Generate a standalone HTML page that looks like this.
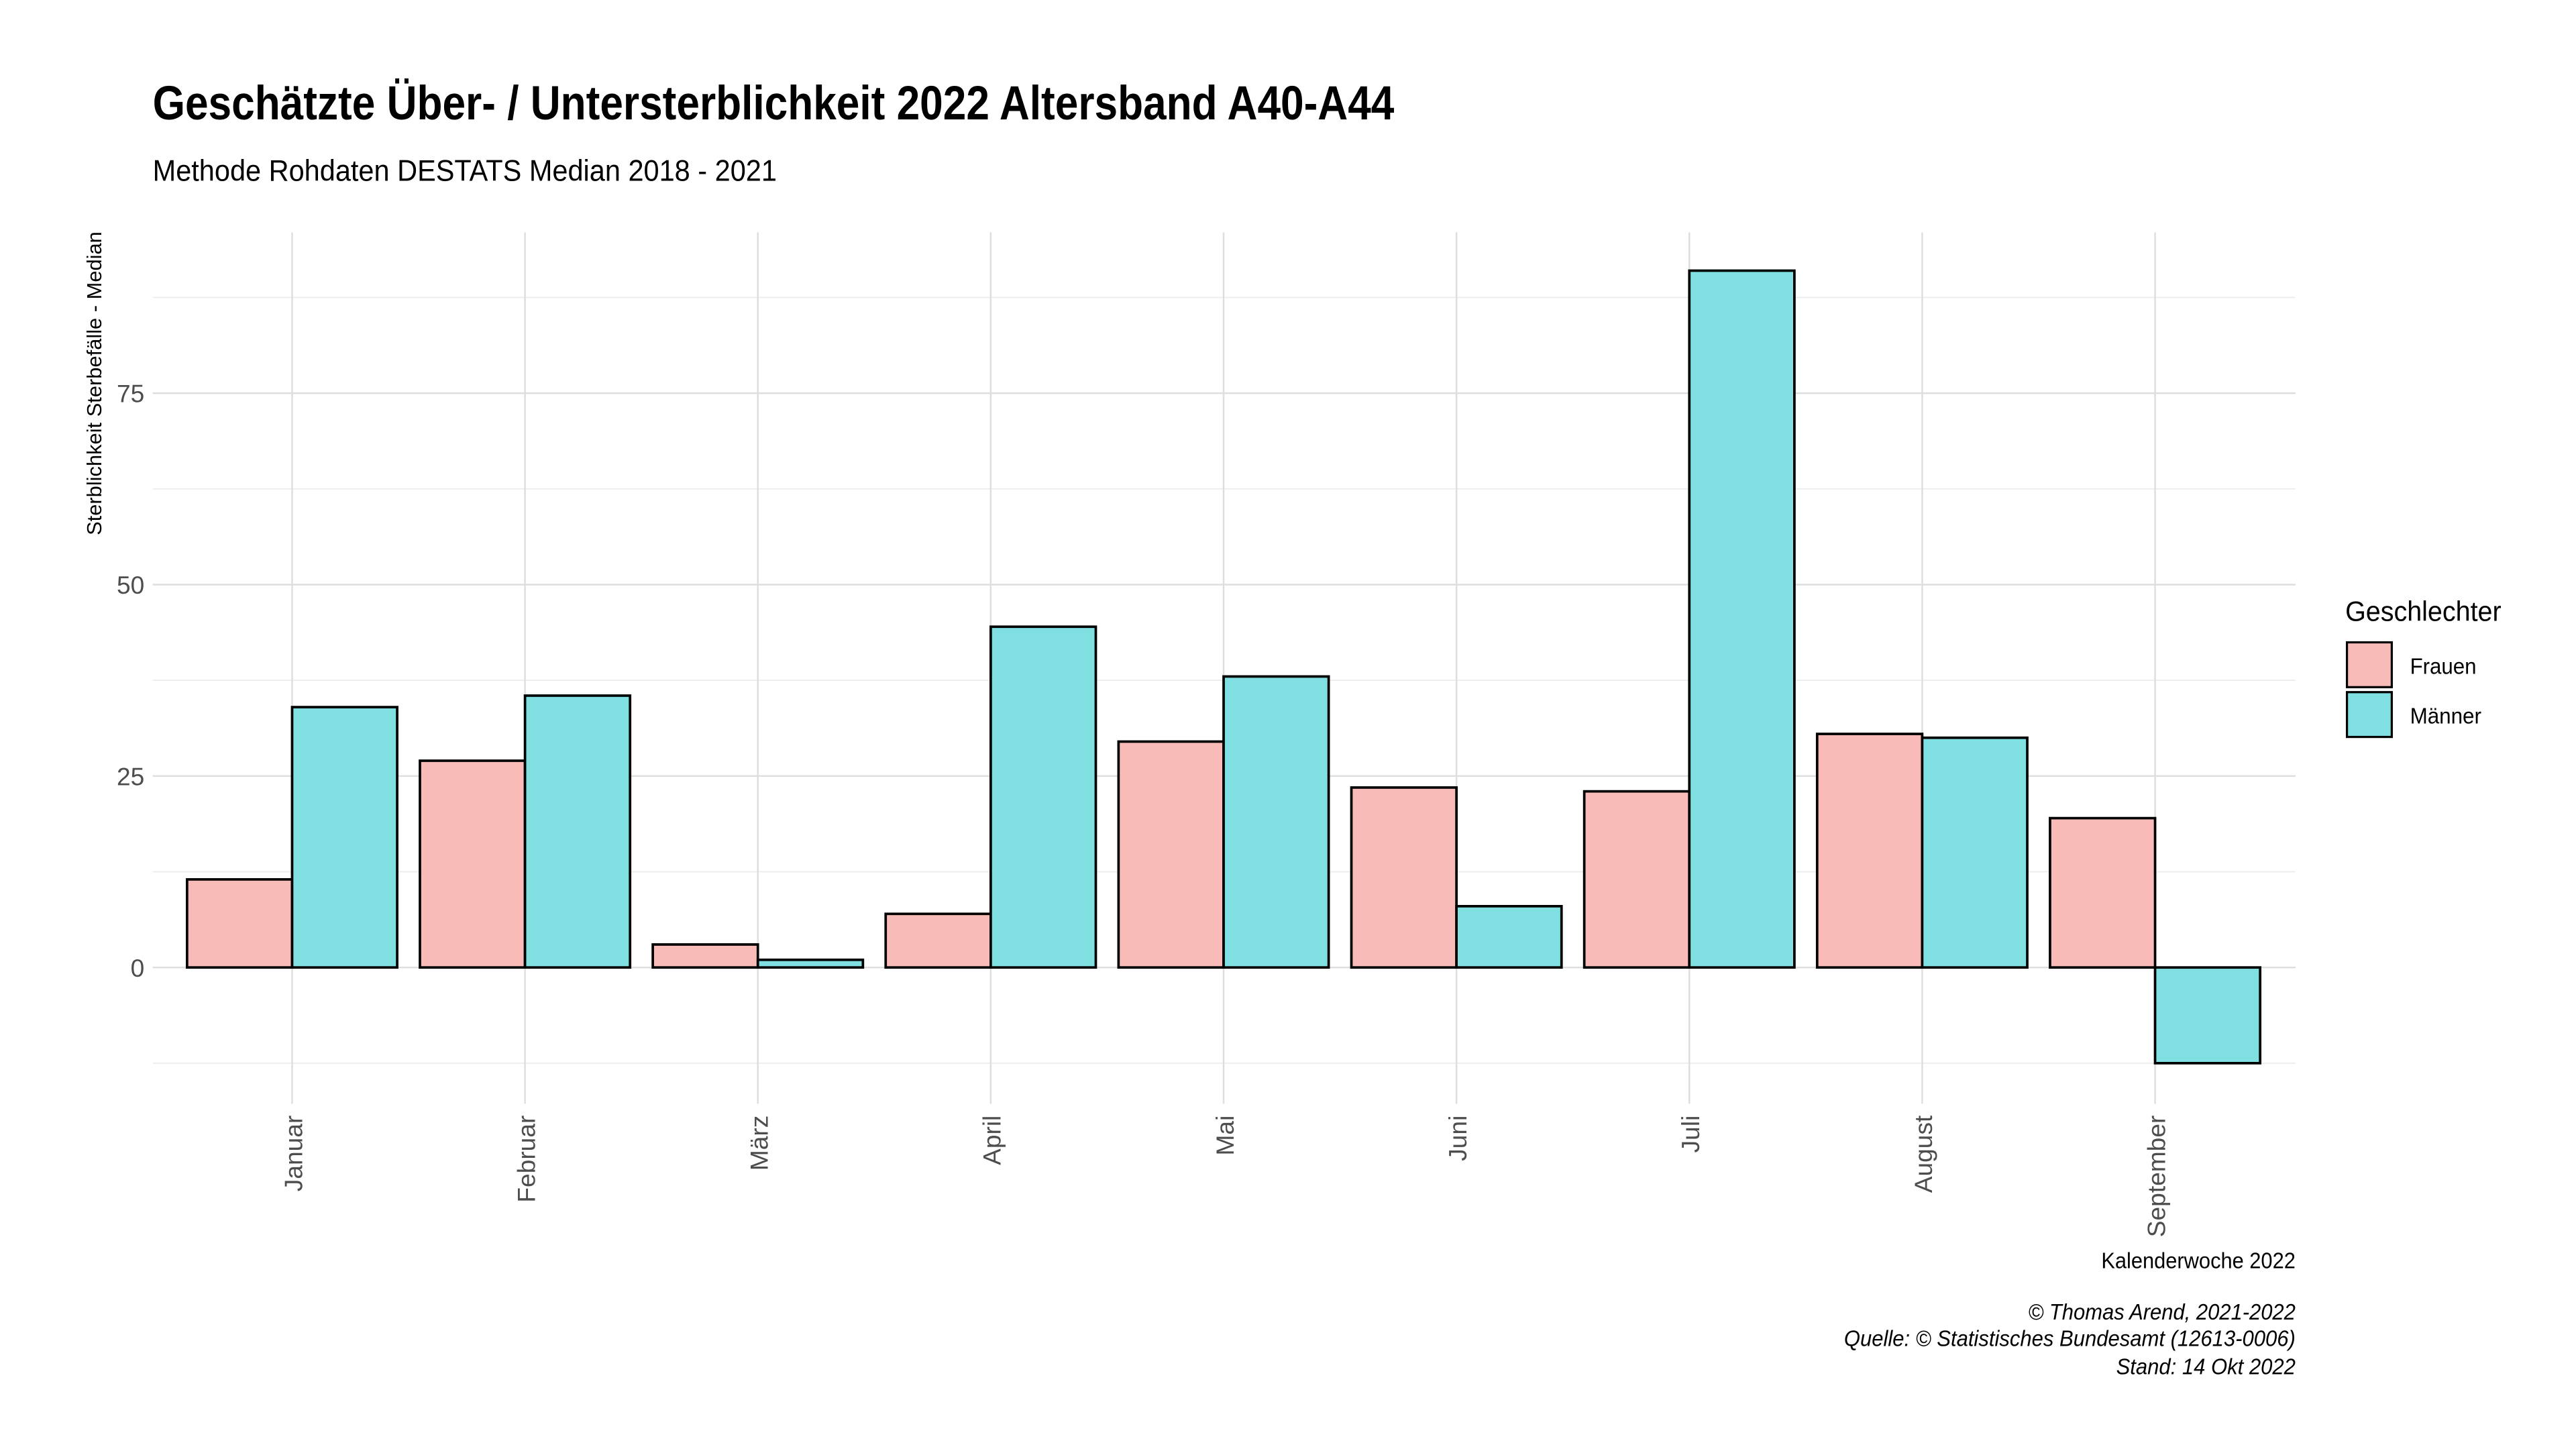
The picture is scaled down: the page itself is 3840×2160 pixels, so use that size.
<!DOCTYPE html>
<html><head><meta charset="utf-8"><style>
html,body{margin:0;padding:0;background:#fff;overflow:hidden;}
svg{display:block;font-family:"Liberation Sans Narrow","Liberation Sans",sans-serif;}
</style></head><body>
<svg id="chart" width="3840" height="2160" viewBox="0 0 1552 873" xmlns="http://www.w3.org/2000/svg">
<rect width="1552" height="873" fill="#fff"/>
<text x="92" y="72" font-size="29" font-weight="bold" fill="#000" textLength="748" lengthAdjust="spacingAndGlyphs">Geschätzte Über- / Untersterblichkeit 2022 Altersband A40-A44</text>
<text x="92" y="109" font-size="18" fill="#000" textLength="376" lengthAdjust="spacingAndGlyphs">Methode Rohdaten DESTATS Median 2018 - 2021</text>
<g id="grid"></g>
<g id="bars"></g>
<g id="yticks"></g>
<g id="xticks"></g>
<text transform="translate(61,231) rotate(-90)" text-anchor="middle" font-size="12.5" fill="#000" textLength="183" lengthAdjust="spacingAndGlyphs">Sterblichkeit Sterbefälle - Median</text>
<text x="1383" y="764" text-anchor="end" font-size="13.5" fill="#000" textLength="117" lengthAdjust="spacingAndGlyphs">Kalenderwoche 2022</text>
<g font-size="13.5" font-style="italic" text-anchor="end" fill="#000">
<text x="1383" y="795" textLength="161" lengthAdjust="spacingAndGlyphs">© Thomas Arend, 2021-2022</text>
<text x="1383" y="811" textLength="272" lengthAdjust="spacingAndGlyphs">Quelle: © Statistisches Bundesamt (12613-0006)</text>
<text x="1383" y="828" textLength="108" lengthAdjust="spacingAndGlyphs">Stand: 14 Okt 2022</text>
</g>
<g>
<text x="1413" y="374" font-size="17" fill="#000" textLength="94" lengthAdjust="spacingAndGlyphs">Geschlechter</text>
<rect x="1414" y="387" width="27" height="27" fill="#f9bbb7" stroke="#000" stroke-width="1.3"/>
<text x="1452" y="406" font-size="13.5" fill="#000" textLength="40" lengthAdjust="spacingAndGlyphs">Frauen</text>
<rect x="1414" y="417" width="27" height="27" fill="#7fdfe1" stroke="#000" stroke-width="1.3"/>
<text x="1452" y="436" font-size="13.5" fill="#000" textLength="43" lengthAdjust="spacingAndGlyphs">Männer</text>
</g>
</svg>
<script>
const categories=["Januar","Februar","März","April","Mai","Juni","Juli","August","September"];
const frauen=[11.5,27,3,7,29.5,23.5,23,30.5,19.5];
const maenner=[34,35.5,1,44.5,38,8,91,30,-12.5];
const yTicks=[0,25,50,75];
const yMinor=[-12.5,12.5,37.5,62.5,87.5];
const NS="http://www.w3.org/2000/svg";
const pLeft=92,pRight=1383,pTop=140,pBottom=665;
const yMin=-17.8,yMax=96;
function yScale(v){return pBottom-(v-yMin)/(yMax-yMin)*(pBottom-pTop);}
const step=140.3,firstX=176;
function xScale(i){return firstX+step*i;}
const bw=63.3;
function mk(tag,attrs,parent){const e=document.createElementNS(NS,tag);for(const k in attrs)e.setAttribute(k,attrs[k]);parent.appendChild(e);return e;}
const grid=document.getElementById('grid'),bars=document.getElementById('bars'),yt=document.getElementById('yticks'),xt=document.getElementById('xticks');
yMinor.forEach(v=>{const l=mk('line',{x1:pLeft,x2:pRight,y1:yScale(v),y2:yScale(v),stroke:'#ececec','stroke-width':0.7},grid);

});
yTicks.forEach(v=>{const l=mk('line',{x1:pLeft,x2:pRight,y1:yScale(v),y2:yScale(v),stroke:'#dedede','stroke-width':1},grid);


const t=mk('text',{x:87,y:yScale(v)+5.5,'text-anchor':'end','font-size':15,fill:'#4d4d4d'},yt);t.textContent=v;

});
categories.forEach((c,i)=>{const xc=xScale(i);
const l=mk('line',{x1:xc,x2:xc,y1:pTop,y2:pBottom,stroke:'#dedede','stroke-width':1},grid);


const t=mk('text',{transform:'translate('+(xc+6)+',672) rotate(-90)','text-anchor':'end','font-size':15,fill:'#4d4d4d'},xt);t.textContent=c;


const f=frauen[i],m=maenner[i];
const bf=mk('rect',{x:xc-bw,y:Math.min(yScale(f),yScale(0)),width:bw,height:Math.abs(yScale(f)-yScale(0)),fill:'#f9bbb7',stroke:'#000','stroke-width':1.5},bars);


const bm=mk('rect',{x:xc,y:Math.min(yScale(m),yScale(0)),width:bw,height:Math.abs(yScale(m)-yScale(0)),fill:'#7fdfe1',stroke:'#000','stroke-width':1.5},bars);

});
</script>
</body></html>
